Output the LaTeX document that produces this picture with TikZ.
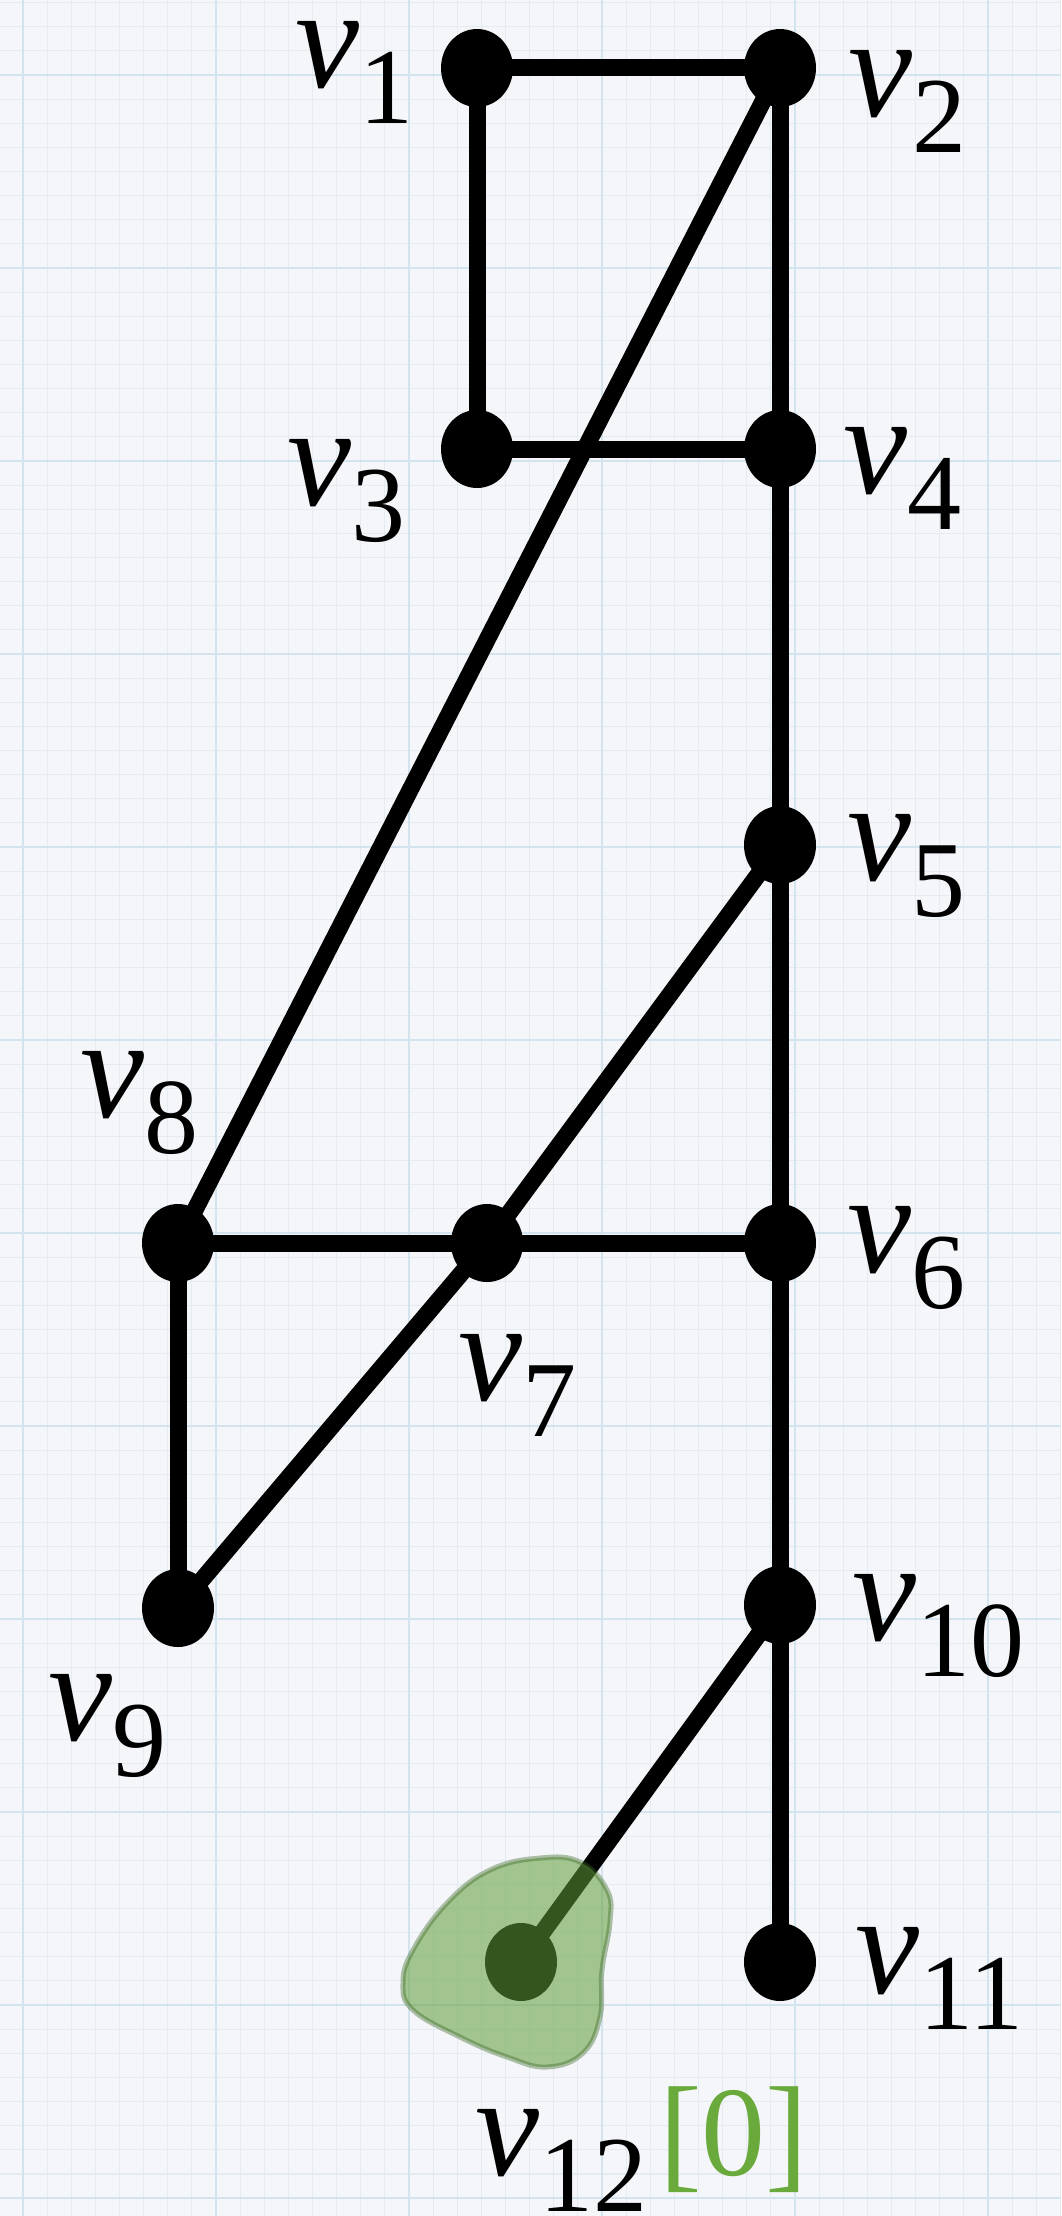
\documentclass[tikz,border=0pt]{standalone}
\usepackage{fontspec}
\setmainfont{Liberation Serif}
\usetikzlibrary{shapes.geometric, positioning}
\definecolor{paper}{RGB}{244,246,249}
\definecolor{gridfine}{RGB}{229,236,241}
\definecolor{gridbold}{RGB}{212,228,238}
\definecolor{blobgreen}{RGB}{96,156,55}
\definecolor{blobedge}{RGB}{60,105,40}
\definecolor{zerogreen}{RGB}{106,170,60}
\newcommand{\vname}[1]{\textit{v}\raisebox{-18pt}{\fontsize{54}{54}\selectfont #1}}
\pgfdeclarelayer{paperlayer}
\pgfdeclarelayer{edgelayer}
\pgfsetlayers{paperlayer,edgelayer,main}

\begin{document}
\begin{tikzpicture}[x=0.5pt, y=-0.5pt,
    dot/.style={ellipse, fill=black, minimum width=36pt, minimum height=39pt, inner sep=0pt},
    edge/.style={line width=8.5pt},
    vlabel/.style={anchor=base west, inner sep=0pt, font=\fontsize{72}{72}\selectfont},
    blob/.style={fill=blobgreen, fill opacity=0.55, draw=blobedge, draw opacity=0.4, line width=2.5pt}]
    \useasboundingbox (0,0) rectangle (1061,2216);

    % graph paper
    \begin{pgfonlayer}{paperlayer}
        \fill[paper] (0,0) rectangle (1061,2216);
        \foreach \k in {0,...,43}
            \draw[gridfine, line width=0.6pt] ({23+\k*24.125},0) -- ({23+\k*24.125},2216);
        \foreach \k in {-3,...,88}
            \draw[gridfine, line width=0.6pt] (0,{75+\k*24.125}) -- (1061,{75+\k*24.125});
        \foreach \k in {0,...,5}
            \draw[gridbold, line width=1.2pt] ({23+\k*193},0) -- ({23+\k*193},2216);
        \foreach \k in {0,...,11}
            \draw[gridbold, line width=1.2pt] (0,{75+\k*193}) -- (1061,{75+\k*193});
    \end{pgfonlayer}

    % vertices
    \node[dot] (v1) at (477,68) {};
    \node[dot] (v2) at (780,68) {};
    \node[dot] (v3) at (477,449) {};
    \node[dot] (v4) at (780,449) {};
    \node[dot] (v5) at (780,845) {};
    \node[dot] (v6) at (780,1243) {};
    \node[dot] (v7) at (487,1243) {};
    \node[dot] (v8) at (178,1243) {};
    \node[dot] (v9) at (178,1608) {};
    \node[dot] (v10) at (780,1605) {};
    \node[dot] (v11) at (780,1962) {};
    \node[dot] (v12) at (521,1962) {};

    % edges
    \begin{pgfonlayer}{edgelayer}
        \foreach \a/\b in {v1/v2, v1/v3, v2/v4, v3/v4, v2/v8, v4/v5, v5/v6,
                           v5/v7, v7/v9, v8/v7, v7/v6, v8/v9, v6/v10, v10/v11, v10/v12}
            \draw[edge] (\a.center) -- (\b.center);
    \end{pgfonlayer}

    % labels
    \node[vlabel] (l1) at (295,88) {\vname{1}};
    \node[vlabel] (l2) at (848,117) {\vname{2}};
    \node[vlabel] (l3) at (287,505) {\vname{3}};
    \node[vlabel] (l4) at (843,493) {\vname{4}};
    \node[vlabel] (l5) at (847,880) {\vname{5}};
    \node[vlabel] (l6) at (847,1272) {\vname{6}};
    \node[vlabel] (l7) at (458,1400) {\vname{7}};
    \node[vlabel] (l8) at (80,1117) {\vname{8}};
    \node[vlabel] (l9) at (48,1740) {\vname{9}};
    \node[vlabel] (l10) at (852,1640) {\vname{10}};
    \node[vlabel] (l11) at (855,1993) {\vname{11}};
    \node[vlabel] (l12) at (475,2175) {\vname{12}\hspace{6pt}{\color{zerogreen}\fontsize{64}{64}\selectfont[0]}};

    % blob round v12
    \draw[blob] plot[smooth cycle, tension=0.7] coordinates {
        (540,1858) (580,1862) (607,1890) (610,1922) (602,1970) (600,2017)
        (583,2053) (547,2067) (507,2057) (460,2037) (413,2010) (403,1983)
        (413,1950) (447,1903) (490,1870)};
\end{tikzpicture}
\end{document}
